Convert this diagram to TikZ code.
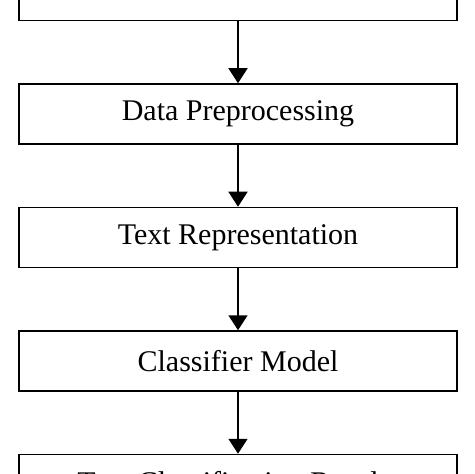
\documentclass[tikz,border=0pt]{standalone}
\usepackage{fontspec}
\setmainfont{Liberation Serif}
\usetikzlibrary{positioning,arrows.meta}
\tikzset{
  stagebox/.style={draw, line width=0.75pt, minimum width=219pt, minimum height=30pt, inner sep=0pt, font=\fontsize{15}{18}\selectfont},
  flow/.style={line width=0.75pt, -{Triangle[width=9.5pt,length=7.5pt]}}
}
\begin{document}
\begin{tikzpicture}[node distance=31pt]
                \clip (0,0) rectangle (237pt,-237pt) ;
                \node[stagebox] (prep) at (119pt,-57pt) {Data Preprocessing} ;
                \node[stagebox, above=of prep] (input) {} ;
                \node[stagebox, below=of prep] (repr) {Text Representation} ;
                \node[stagebox, below=of repr] (model) {Classifier Model} ;
                \node[stagebox, below=of model, text depth=3pt] (result) {Text Classification Results} ;
                \draw[flow] (input) -- (prep) ;
                \draw[flow] (prep) -- (repr) ;
                \draw[flow] (repr) -- (model) ;
                \draw[flow] (model) -- (result) ;
            \end{tikzpicture}
\end{document}
